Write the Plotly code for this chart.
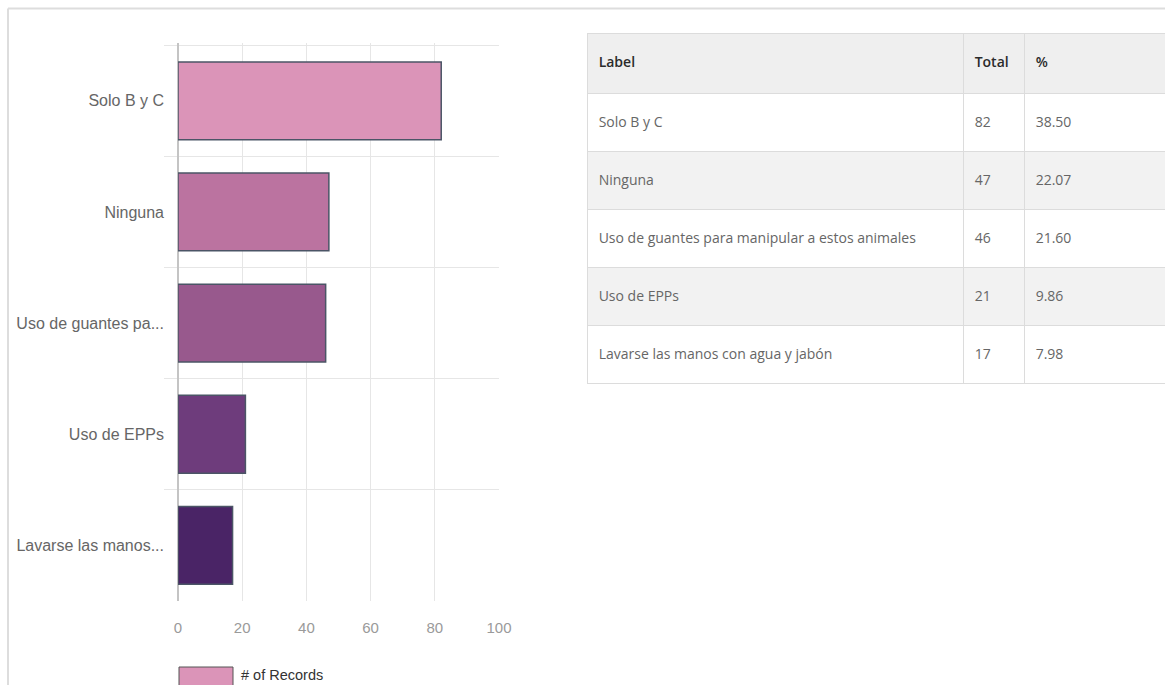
import plotly.graph_objects as go

# Data
labels_full = [
    "Solo B y C",
    "Ninguna",
    "Uso de guantes para manipular a estos animales",
    "Uso de EPPs",
    "Lavarse las manos con agua y jabón",
]
labels_short = [
    "Solo B y C",
    "Ninguna",
    "Uso de guantes pa...",
    "Uso de EPPs",
    "Lavarse las manos...",
]
totals = [82, 47, 46, 21, 17]
percents = ["38.50", "22.07", "21.60", "9.86", "7.98"]
bar_colors = ["#db94b8", "#bb73a0", "#98598d", "#6e3c7c", "#4a2466"]
x_ticks = [0, 20, 40, 60, 80, 100]

W, H = 1165, 685
FONT = "Liberation Sans, Arial, sans-serif"
TABLE_FONT = "Open Sans, Noto Sans, sans-serif"


def px_x(v):
    return v / W


def px_y(v):
    return 1 - v / H


def cell_text(items, size=14):
    # a short blank first line pushes the text towards the middle of the row
    return ["\u00a0<br><span style='font-size:%dpx'>&nbsp;%s</span>" % (size, t) for t in items]


fig = go.Figure()

fig.add_trace(go.Bar(
    x=totals,
    y=labels_short,
    orientation="h",
    width=0.7,
    marker=dict(color=bar_colors, line=dict(color="#4b5566", width=1.5)),
    name="# of Records",
    showlegend=False,
))

fig.add_trace(go.Table(
    domain=dict(x=[px_x(587), 1.0], y=[px_y(386), px_y(33)]),
    columnwidth=[376, 61, 141],
    header=dict(
        values=cell_text(["Label", "Total", "%"]),
        fill_color="#efefef",
        line=dict(color="#dcdcdc", width=1),
        align="left",
        height=60,
        font=dict(family=TABLE_FONT, size=11, color="#2b2b2b", weight=600),
    ),
    cells=dict(
        values=[cell_text(labels_full), cell_text(totals), cell_text(percents)],
        fill_color=[["#ffffff", "#f2f2f2", "#ffffff", "#f2f2f2", "#ffffff"]] * 3,
        line=dict(color="#dcdcdc", width=1),
        align="left",
        height=58,
        font=dict(family=TABLE_FONT, size=11, color="#666666"),
    ),
))

fig.update_layout(
    width=W,
    height=H,
    margin=dict(l=0, r=0, t=0, b=0, pad=0),
    paper_bgcolor="white",
    plot_bgcolor="white",
    showlegend=False,
    font=dict(family=FONT),
    xaxis=dict(
        domain=[px_x(178), px_x(499)],
        range=[0, 100],
        tickvals=x_ticks,
        showgrid=True,
        gridcolor="#e6e6e6",
        gridwidth=1,
        zeroline=True,
        zerolinecolor="#c4c4c4",
        zerolinewidth=1.5,
        ticks="outside",
        ticklen=13,
        tickcolor="rgba(0,0,0,0)",
        tickfont=dict(family=FONT, size=15, color="#9a9a9a"),
        showline=False,
        automargin=False,
        fixedrange=True,
    ),
    yaxis=dict(
        domain=[px_y(601), px_y(43)],
        range=[4.5, -0.52],
        tickson="boundaries",
        ticks="outside",
        ticklen=13,
        tickcolor="#e6e6e6",
        ticklabelstandoff=13,
        showgrid=True,
        gridcolor="#e6e6e6",
        gridwidth=1,
        tickfont=dict(family=FONT, size=16, color="#666666"),
        showline=False,
        automargin=False,
        fixedrange=True,
    ),
    shapes=[
        # outer frame
        dict(type="line", xref="paper", yref="paper",
             x0=px_x(8), x1=1.0, y0=px_y(8.5), y1=px_y(8.5),
             line=dict(color="#dddddd", width=2)),
        dict(type="line", xref="paper", yref="paper",
             x0=px_x(8), x1=px_x(8), y0=px_y(8.5), y1=0,
             line=dict(color="#dddddd", width=2)),
        # legend swatch
        dict(type="rect", xref="paper", yref="paper",
             x0=px_x(179), x1=px_x(233), y0=px_y(695), y1=px_y(667),
             fillcolor=bar_colors[0], line=dict(color="#555555", width=1)),
    ],
    annotations=[
        dict(text="# of Records", xref="paper", yref="paper",
             x=px_x(239), y=px_y(675), xanchor="left", yanchor="middle",
             showarrow=False,
             font=dict(family=FONT, size=14.5, color="#333333")),
    ],
)

fig.write_html("out.html")
